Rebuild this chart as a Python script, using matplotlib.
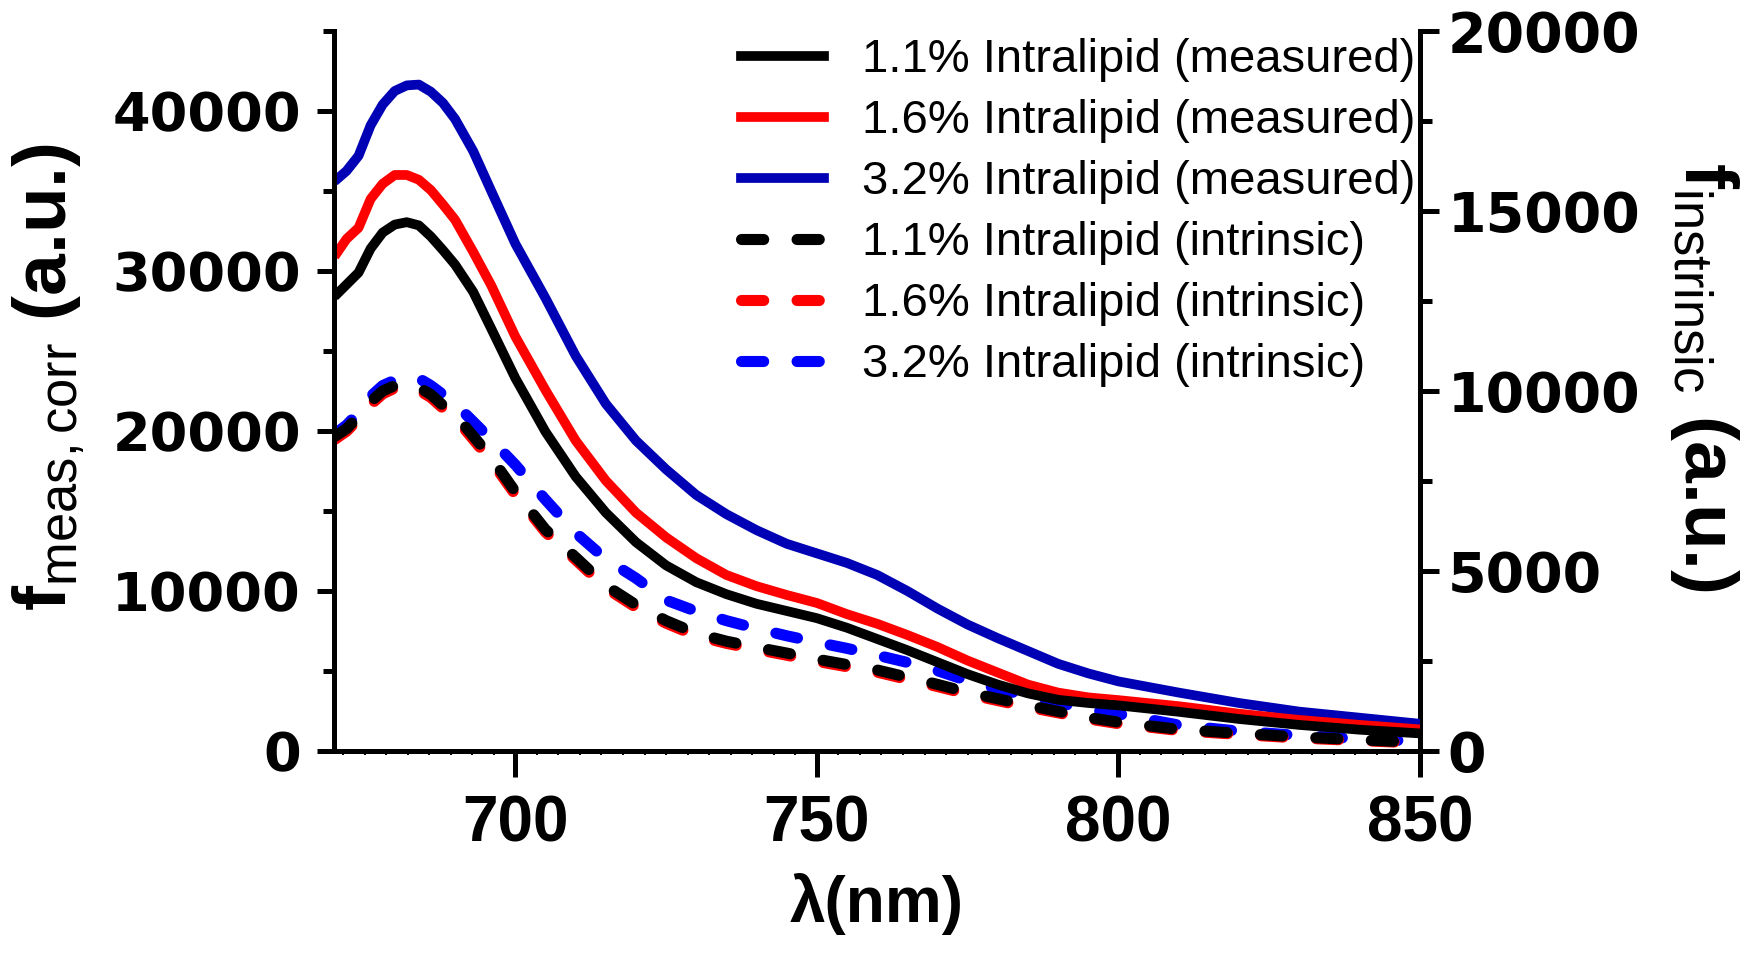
import numpy as np
import matplotlib
matplotlib.use('Agg')
import matplotlib.pyplot as plt
from matplotlib import font_manager
from matplotlib.ticker import MultipleLocator, AutoMinorLocator
from matplotlib.lines import Line2D

# fuentes
nombres = {f.name for f in font_manager.fontManager.ttflist}
narrow = 'Liberation Sans Narrow' if 'Liberation Sans Narrow' in nombres else 'Liberation Sans'
tam_x = 52 if narrow != 'Liberation Sans' else 46

plt.rcParams['mathtext.fontset'] = 'custom'
plt.rcParams['mathtext.rm'] = 'Liberation Sans'
plt.rcParams['mathtext.bf'] = 'Liberation Sans:bold'
plt.rcParams['mathtext.it'] = 'Liberation Sans:italic'

# Datos
wl = np.array([670, 672, 674, 676, 678, 680, 682, 684, 686, 688, 690, 693, 696,
               700, 705, 710, 715, 720, 725, 730, 735, 740, 745, 750, 755, 760,
               765, 770, 775, 780, 785, 790, 795, 800, 810, 820, 830, 840, 850])

# medido (eje izquierdo)
meas_11 = np.array([28400, 29150, 29900, 31400, 32400, 32900, 33050, 32850, 32150, 31300,
                    30400, 28700, 26400, 23300, 19950, 17150, 14900, 13050, 11600, 10550,
                    9800, 9200, 8750, 8300, 7700, 7000, 6300, 5550, 4800, 4150, 3600,
                    3200, 3000, 2850, 2450, 2000, 1630, 1330, 1100])
meas_16 = np.array([30900, 32000, 32700, 34500, 35450, 36000, 36000, 35700, 35050, 34150,
                    33200, 31200, 29100, 25900, 22550, 19400, 16900, 14900, 13350, 12050,
                    11000, 10300, 9750, 9250, 8550, 7950, 7250, 6500, 5650, 4900, 4150,
                    3650, 3350, 3180, 2800, 2330, 1940, 1630, 1350])
meas_32 = np.array([35600, 36250, 37200, 39100, 40400, 41250, 41600, 41650, 41200, 40500,
                    39500, 37500, 35000, 31700, 28300, 24700, 21700, 19400, 17600, 16000,
                    14800, 13800, 12950, 12350, 11750, 11000, 10000, 8900, 7900, 7050, 6250,
                    5450, 4850, 4350, 3650, 3000, 2460, 2080, 1700])

# intrínseco (eje derecho)
intr_11 = np.array([8730, 8950, 9300, 9700, 10000, 10150, 10200, 10100, 9900, 9600,
                    9350, 8750, 8150, 7200, 6150, 5380, 4600, 4060, 3620, 3270,
                    3050, 2880, 2720, 2550, 2400, 2250, 2050, 1850, 1630, 1450, 1270,
                    1100, 930, 800, 600, 490, 390, 310, 240])
intr_16 = np.array([8650, 8880, 9220, 9620, 9920, 10080, 10120, 10020, 9820, 9520,
                    9260, 8660, 8060, 7120, 6080, 5310, 4530, 3990, 3550, 3200,
                    2990, 2820, 2660, 2490, 2340, 2190, 1990, 1790, 1580, 1400, 1220,
                    1060, 890, 760, 570, 460, 360, 290, 220])
intr_32 = np.array([8800, 9050, 9400, 9850, 10150, 10300, 10400, 10350, 10150, 9900,
                    9650, 9150, 8650, 7950, 6980, 6060, 5330, 4800, 4190, 3880,
                    3620, 3400, 3200, 3020, 2850, 2660, 2460, 2230, 1950, 1730, 1530,
                    1340, 1150, 1030, 720, 550, 430, 340, 270])

etiquetas = ['1.1% Intralipid (measured)', '1.6% Intralipid (measured)',
             '3.2% Intralipid (measured)', '1.1% Intralipid (intrinsic)',
             '1.6% Intralipid (intrinsic)', '3.2% Intralipid (intrinsic)']
c_negro, c_rojo, c_azul_osc, c_azul = '#000000', '#ff0000', '#0000b4', '#0000ff'

fig = plt.figure(figsize=(17.5, 9.59), dpi=100)
ax = fig.add_axes([0.1911, 0.2169, 0.6203, 0.7508])
ax2 = ax.twinx()
ax.set_zorder(2)
ax2.set_zorder(1)
ax.patch.set_visible(False)

lw = 7
lw_d = 8
dash = (0, (2.0, 3.0))

# curvas intrínsecas (derecha) debajo
ax2.plot(wl, intr_32, color=c_azul, lw=lw_d, ls=dash, dash_capstyle='round')
ax2.plot(wl, intr_16, color=c_rojo, lw=lw_d, ls=dash, dash_capstyle='round')
ax2.plot(wl, intr_11, color=c_negro, lw=lw_d, ls=dash, dash_capstyle='round')

# curvas medidas (izquierda)
ax.plot(wl, meas_32, color=c_azul_osc, lw=lw, solid_capstyle='butt')
ax.plot(wl, meas_16, color=c_rojo, lw=lw, solid_capstyle='butt')
ax.plot(wl, meas_11, color=c_negro, lw=lw, solid_capstyle='butt')

ax.set_xlim(670, 850)
ax.set_ylim(0, 45000)
ax2.set_ylim(0, 20000)

# ejes
for s in ['top', 'right']:
    ax.spines[s].set_visible(False)
for s in ['top', 'left', 'bottom']:
    ax2.spines[s].set_visible(False)
for s in ['left', 'bottom']:
    ax.spines[s].set_linewidth(3.6)
ax2.spines['right'].set_linewidth(3.6)

ax.set_xticks([700, 750, 800, 850])
ax.xaxis.set_minor_locator(AutoMinorLocator(14))
ax.set_yticks([0, 10000, 20000, 30000, 40000])
ax.yaxis.set_minor_locator(MultipleLocator(5000))
ax2.set_yticks([0, 5000, 10000, 15000, 20000])
ax2.yaxis.set_minor_locator(MultipleLocator(2500))

ax.tick_params(axis='x', which='major', length=19, width=3.6, pad=12)
ax.tick_params(axis='x', which='minor', length=3, width=1.5)
ax.tick_params(axis='y', which='major', length=12, width=3.6, pad=12)
ax.tick_params(axis='y', which='minor', length=8, width=3.6)
ax2.tick_params(axis='y', which='major', length=14, width=3.6, pad=6)
ax2.tick_params(axis='y', which='minor', length=8.5, width=3.6)

for t in ax.get_xticklabels():
    t.set_fontfamily(narrow)
    t.set_fontweight('bold')
    t.set_fontsize(tam_x)
for t in ax.get_yticklabels():
    t.set_fontfamily('DejaVu Sans')
    t.set_fontweight('bold')
    t.set_fontsize(39)
for t in ax2.get_yticklabels():
    t.set_fontfamily('DejaVu Sans')
    t.set_fontweight('bold')
    t.set_fontsize(40)

ax.set_xlabel('λ(nm)', family=narrow, fontweight='bold', fontsize=tam_x)
ax.xaxis.set_label_coords(0.5, -0.17)

ax.set_ylabel(r'$\mathbf{f}_{\mathrm{meas,corr}}$ (a.u.)', family='Liberation Sans',
              fontweight='bold', fontsize=54)
ax.yaxis.set_label_coords(-0.228, 0.52)
ax2.set_ylabel(r'$\mathbf{f}_{\mathrm{instrinsic}}$ (a.u.)', family='Liberation Sans',
               fontweight='bold', fontsize=54, rotation=270, va='bottom')
ax2.yaxis.set_label_coords(1.2285, 0.52)

# leyenda
manejadores = [Line2D([], [], color=c_negro, lw=lw),
               Line2D([], [], color=c_rojo, lw=lw),
               Line2D([], [], color=c_azul_osc, lw=lw),
               Line2D([], [], color=c_negro, lw=lw_d, ls=dash, dash_capstyle='round'),
               Line2D([], [], color=c_rojo, lw=lw_d, ls=dash, dash_capstyle='round'),
               Line2D([], [], color=c_azul, lw=lw_d, ls=dash, dash_capstyle='round')]
ax.legend(manejadores, etiquetas, loc='upper left', bbox_to_anchor=(0.375, 0.99),
          frameon=False, prop={'family': 'Liberation Sans', 'size': 34},
          handlelength=1.75, handletextpad=0.8, labelspacing=0.36,
          borderpad=0, borderaxespad=0)

fig.savefig('out.png', dpi=100)
